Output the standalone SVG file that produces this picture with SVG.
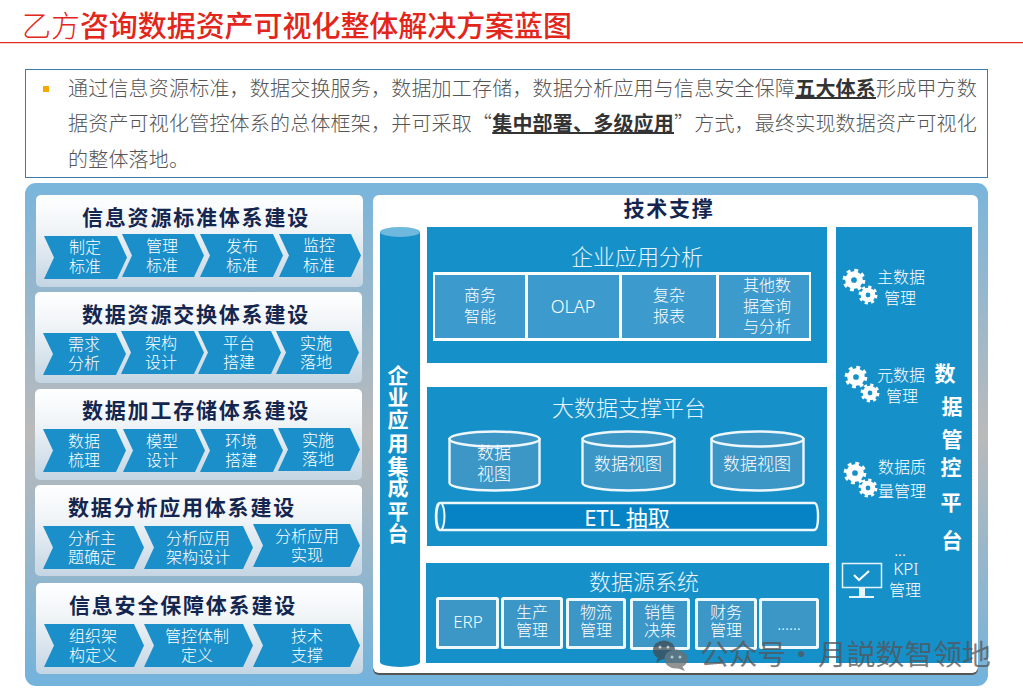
<svg xmlns="http://www.w3.org/2000/svg" width="1023" height="697" viewBox="0 0 1023 697">
<style>
text{font-family:"Noto Sans CJK SC","Noto Sans",sans-serif}
.ct{font-size:21px;font-weight:700;fill:#14264f;letter-spacing:1.8px;text-anchor:middle}
.ch{fill:#1a8fca}
.l{font-size:16px;fill:#fff;text-anchor:middle;font-weight:300}
.l17{font-size:17px}
.h{font-size:22px;fill:#e6f4fb;text-anchor:middle;font-weight:300}
.b{fill:#1690c9}
.c{fill:#3c9acc}
.s{fill:#3c96c6;stroke:#edf7fc;stroke-width:3}
.cy{fill:#3c96c6;stroke:#edf7fc;stroke-width:2.4}
.v{font-size:21px;fill:#fff;font-weight:700;text-anchor:middle}
.body{font-size:20px;fill:#555;letter-spacing:.2px;font-weight:300}
.em{font-weight:700;fill:#333;text-decoration:underline}
</style>
<defs>
<linearGradient id="panel" x1="0" y1="0" x2="0" y2="1"><stop offset="0" stop-color="#79b5dc"/><stop offset=".5" stop-color="#bababa"/><stop offset="1" stop-color="#72b3dc"/></linearGradient>
<linearGradient id="card" x1="0" y1="0" x2="0" y2="1"><stop offset="0" stop-color="#fff"/><stop offset=".35" stop-color="#f1f5f8"/><stop offset="1" stop-color="#c4d5e3"/></linearGradient>
<g id="gear"><circle r="5.4" fill="none" stroke="#fff" stroke-width="5.5"/><circle r="9" fill="none" stroke="#fff" stroke-width="3" stroke-dasharray="3.534"/></g>
</defs>
<rect width="1023" height="697" fill="#fff"/>
<g id="title">
<text x="22" y="37" font-size="29" fill="#e3261b" font-weight="300" textLength="550"><tspan>乙方</tspan><tspan font-weight="500">咨询数据资产可视化整体解决方案蓝图</tspan></text>
<rect x="0" y="42" width="1023" height="1.2" fill="#e3261b"/>
</g>
<g id="intro">
<rect x="25.5" y="69.5" width="962" height="108" fill="#fff" stroke="#3f7ba8"/>
<rect x="43" y="86" width="6" height="6" fill="#f5a800"/>
<text class="body"><tspan x="68" y="96">通过信息资源标准，数据交换服务，数据加工存储，数据分析应用与信息安全保障<tspan class="em">五大体系</tspan>形成甲方数</tspan><tspan x="68" y="131">据资产可视化管控体系的总体框架，并可采取“<tspan class="em">集中部署、多级应用</tspan>”方式，最终实现数据资产可视化</tspan><tspan x="68" y="167">的整体落地。</tspan></text>
</g>
<rect id="panel-bg" x="25" y="183" width="963" height="503" rx="11" fill="url(#panel)"/>
<g id="card-standard">
<rect x="36" y="195" width="327" height="92" rx="5" fill="url(#card)"/>
<text class="ct" x="196" y="225">信息资源标准体系建设</text>
<polygon class="ch" points="44,236 117,236 127,257.5 117,279 44,279 54,257.5"/>
<polygon class="ch" points="122,234 194,234 204,255.5 194,277 122,277 132,255.5"/>
<polygon class="ch" points="200,234 273,234 283,255.5 273,277 200,277 210,255.5"/>
<polygon class="ch" points="279,234 351,234 361,255.5 351,277 279,277 289,255.5"/>
<text class="l"><tspan x="85" y="253">制定</tspan><tspan x="85" y="272">标准</tspan></text>
<text class="l"><tspan x="162" y="252">管理</tspan><tspan x="162" y="271">标准</tspan></text>
<text class="l"><tspan x="242" y="252">发布</tspan><tspan x="242" y="271">标准</tspan></text>
<text class="l"><tspan x="319" y="251">监控</tspan><tspan x="319" y="271">标准</tspan></text>
</g>
<g id="card-exchange">
<rect x="35" y="292" width="327" height="91" rx="5" fill="url(#card)"/>
<text class="ct" x="196" y="322">数据资源交换体系建设</text>
<polygon class="ch" points="43,333 116,333 126,354 116,375 43,375 53,354"/>
<polygon class="ch" points="121,331 194,331 204,352.5 194,374 121,374 131,352.5"/>
<polygon class="ch" points="198,331 271,331 281,352.5 271,374 198,374 208,352.5"/>
<polygon class="ch" points="276,331 349,331 359,352.5 349,374 276,374 286,352.5"/>
<text class="l"><tspan x="84" y="350">需求</tspan><tspan x="84" y="369">分析</tspan></text>
<text class="l"><tspan x="161" y="349">架构</tspan><tspan x="161" y="368">设计</tspan></text>
<text class="l"><tspan x="239" y="349">平台</tspan><tspan x="239" y="368">搭建</tspan></text>
<text class="l"><tspan x="316" y="349">实施</tspan><tspan x="316" y="368">落地</tspan></text>
</g>
<g id="card-process">
<rect x="35" y="389" width="327" height="91" rx="5" fill="url(#card)"/>
<text class="ct" x="196" y="418">数据加工存储体系建设</text>
<polygon class="ch" points="43,429 116,429 126,450.5 116,472 43,472 53,450.5"/>
<polygon class="ch" points="123,429 195,429 205,450.5 195,472 123,472 133,450.5"/>
<polygon class="ch" points="200,429 273,429 283,450.5 273,472 200,472 210,450.5"/>
<polygon class="ch" points="278,428 350,428 360,449.5 350,471 278,471 288,449.5"/>
<text class="l"><tspan x="84" y="447">数据</tspan><tspan x="84" y="466">梳理</tspan></text>
<text class="l"><tspan x="162" y="447">模型</tspan><tspan x="162" y="466">设计</tspan></text>
<text class="l"><tspan x="241" y="447">环境</tspan><tspan x="241" y="466">搭建</tspan></text>
<text class="l"><tspan x="318" y="446">实施</tspan><tspan x="318" y="465">落地</tspan></text>
</g>
<g id="card-analysis">
<rect x="35" y="485" width="327" height="91" rx="5" fill="url(#card)"/>
<text class="ct" x="182" y="515">数据分析应用体系建设</text>
<polygon class="ch" points="43,526 134,526 144,547.5 134,569 43,569 53,547.5"/>
<polygon class="ch" points="144,526 243,526 253,547.5 243,569 144,569 154,547.5"/>
<polygon class="ch" points="253,524 350,524 360,545.5 350,567 253,567 263,545.5"/>
<text class="l"><tspan x="92" y="544">分析主</tspan><tspan x="92" y="563">题确定</tspan></text>
<text class="l"><tspan x="198" y="544">分析应用</tspan><tspan x="198" y="563">架构设计</tspan></text>
<text class="l"><tspan x="307" y="542">分析应用</tspan><tspan x="307" y="561">实现</tspan></text>
</g>
<g id="card-security">
<rect x="36" y="583" width="327" height="91" rx="5" fill="url(#card)"/>
<text class="ct" x="183" y="613">信息安全保障体系建设</text>
<polygon class="ch" points="44,624 134,624 144,645.5 134,667 44,667 54,645.5"/>
<polygon class="ch" points="144,624 243,624 253,645.5 243,667 144,667 154,645.5"/>
<polygon class="ch" points="253,624 350,624 360,645.5 350,667 253,667 263,645.5"/>
<text class="l"><tspan x="93" y="642">组织架</tspan><tspan x="93" y="661">构定义</tspan></text>
<text class="l"><tspan x="197" y="642">管控体制</tspan><tspan x="197" y="661">定义</tspan></text>
<text class="l"><tspan x="307" y="642">技术</tspan><tspan x="307" y="661">支撑</tspan></text>
</g>
<g id="tech-panel">
<rect x="373" y="197" width="605" height="478" rx="6" fill="#555"/>
<rect x="373" y="195" width="605" height="478" rx="6" fill="#fff"/>
<text class="ct" x="669" y="216">技术支撑</text>
</g>
<g id="integration-platform">
<path class="b" d="M380 232V662A20 5 0 0 0 420 662V232Z"/>
<ellipse cx="400" cy="232" rx="20" ry="5" fill="#6fb8de"/>
<text class="v"><tspan x="398" y="383">企</tspan><tspan x="398" y="405">业</tspan><tspan x="398" y="427">应</tspan><tspan x="398" y="451">用</tspan><tspan x="398" y="474">集</tspan><tspan x="398" y="495">成</tspan><tspan x="398" y="519">平</tspan><tspan x="398" y="541">台</tspan></text>
</g>
<g id="enterprise-analysis">
<rect class="b" x="427" y="227" width="400" height="136"/>
<text class="h" x="637" y="265">企业应用分析</text>
<rect x="433" y="272" width="378" height="69" fill="#fff"/>
<rect class="c" x="435" y="275" width="90" height="63"/>
<rect class="c" x="528" y="275" width="91" height="63"/>
<rect class="c" x="622" y="275" width="94" height="63"/>
<rect class="c" x="719" y="275" width="90" height="63"/>
<text class="l"><tspan x="480" y="301">商务</tspan><tspan x="480" y="322">智能</tspan></text>
<text class="l" x="573" y="313" style="font-size:18px;font-family:'Noto Sans',sans-serif">OLAP</text>
<text class="l"><tspan x="669" y="301">复杂</tspan><tspan x="669" y="322">报表</tspan></text>
<text class="l"><tspan x="767" y="291">其他数</tspan><tspan x="767" y="312">据查询</tspan><tspan x="767" y="332">与分析</tspan></text>
</g>
<g id="bigdata-platform">
<rect class="b" x="427" y="387" width="400" height="159"/>
<text class="h" x="629" y="416">大数据支撑平台</text>
<path class="cy" d="M449.500 439V483A45 7.500 0 0 0 539.500 483V439Z"/><ellipse class="cy" cx="494.500" cy="439" rx="45" ry="7.500"/>
<path class="cy" d="M582.500 439V483A46 7.500 0 0 0 674.500 483V439Z"/><ellipse class="cy" cx="628.500" cy="439" rx="46" ry="7.500"/>
<path class="cy" d="M711.500 439V483A46 7.500 0 0 0 803.500 483V439Z"/><ellipse class="cy" cx="757.500" cy="439" rx="46" ry="7.500"/>
<text class="l l17"><tspan x="494" y="459">数据</tspan><tspan x="494" y="480">视图</tspan></text>
<text class="l l17" x="628" y="470">数据视图</text>
<text class="l l17" x="757" y="470">数据视图</text>
<path d="M440 503H814Q818 503 818 516.500Q818 530 814 530H440Q436 530 436 516.500Q436 503 440 503Z" fill="#0583c4" stroke="#edf7fc" stroke-width="2.400"/>
<ellipse cx="440.500" cy="516.500" rx="4" ry="13.500" fill="#1690c9" stroke="#edf7fc" stroke-width="2"/>
<text class="h" x="627" y="526" style="fill:#fff;font-weight:400;font-family:'Noto Sans','Noto Sans CJK SC',sans-serif">ETL 抽取</text>
</g>
<g id="data-sources">
<rect class="b" x="426" y="563" width="403" height="100"/>
<text class="h" x="644" y="590">数据源系统</text>
<rect class="s" x="437.500" y="598.500" width="60" height="49" rx="1"/>
<rect class="s" x="502.500" y="598.500" width="59" height="49" rx="1"/>
<rect class="s" x="567.500" y="599.500" width="57" height="48" rx="1"/>
<rect class="s" x="631.500" y="599.500" width="57" height="49" rx="1"/>
<rect class="s" x="696.500" y="599.500" width="59" height="49" rx="1"/>
<rect class="s" x="760.500" y="599.500" width="57" height="48" rx="1"/>
<text class="l" x="468" y="628" style="font-size:17px;font-family:'Noto Sans',sans-serif">ERP</text>
<text class="l"><tspan x="532" y="618">生产</tspan><tspan x="532" y="636">管理</tspan></text>
<text class="l"><tspan x="596" y="618">物流</tspan><tspan x="596" y="636">管理</tspan></text>
<text class="l"><tspan x="660" y="618">销售</tspan><tspan x="660" y="636">决策</tspan></text>
<text class="l"><tspan x="726" y="618">财务</tspan><tspan x="726" y="636">管理</tspan></text>
<text class="l" x="789" y="630" style="font-family:'Noto Sans',sans-serif">……</text>
</g>
<g id="governance-platform">
<rect class="b" x="836" y="227" width="136" height="436"/>
<use href="#gear" transform="translate(854 280) scale(1.08)"/><use href="#gear" transform="translate(868 295) scale(.9)"/>
<use href="#gear" transform="translate(856 377) scale(1.08)"/><use href="#gear" transform="translate(870 393) scale(.9)"/>
<use href="#gear" transform="translate(855 473) scale(1.08)"/><use href="#gear" transform="translate(868 488) scale(.9)"/>
<text class="l"><tspan x="901" y="283">主数据</tspan><tspan x="900" y="304">管理</tspan></text>
<text class="l"><tspan x="901" y="381">元数据</tspan><tspan x="902" y="402">管理</tspan></text>
<text class="l"><tspan x="902" y="473">数据质</tspan><tspan x="902" y="497">量管理</tspan></text>
<text class="l" style="font-family:'Noto Sans','Noto Sans CJK SC',sans-serif"><tspan x="900" y="556">...</tspan><tspan x="906" y="575" style="font-size:17px">KPI</tspan><tspan x="905" y="596">管理</tspan></text>
<g fill="none" stroke="#e6f4fb">
<rect x="842.500" y="563.500" width="39" height="24" stroke-width="1.500"/>
<path d="M854 575L859 580L869 571" stroke="#fff" stroke-width="2"/>
</g>
<path d="M859 588H865V596H874V598H849V596H859Z" fill="#e6f4fb"/>
<text class="v"><tspan x="945" y="381">数</tspan><tspan x="952" y="414">据</tspan><tspan x="952" y="447">管</tspan><tspan x="951" y="475">控</tspan><tspan x="951" y="510">平</tspan><tspan x="952" y="548">台</tspan></text>
</g>
<g id="watermark" opacity=".75">
<ellipse cx="664" cy="650" rx="11" ry="9.500" fill="#3f4a52"/>
<path d="M658 657L656 663L664 658Z" fill="#3f4a52"/>
<ellipse cx="676" cy="659" rx="11.500" ry="9.500" fill="#6e6e6e"/>
<path d="M682 666L685 671L677 668Z" fill="#6e6e6e"/>
<circle cx="660" cy="647" r="1.500" fill="#ccc"/><circle cx="668" cy="647" r="1.500" fill="#ccc"/>
<circle cx="672" cy="657" r="1.500" fill="#ddd"/><circle cx="680" cy="657" r="1.500" fill="#ddd"/>
<text font-size="28.800" fill="#555"><tspan x="700" y="665">公众号</tspan><tspan x="787" y="665">·</tspan><tspan x="818" y="665">月説数智领地</tspan></text>
</g>
</svg>
